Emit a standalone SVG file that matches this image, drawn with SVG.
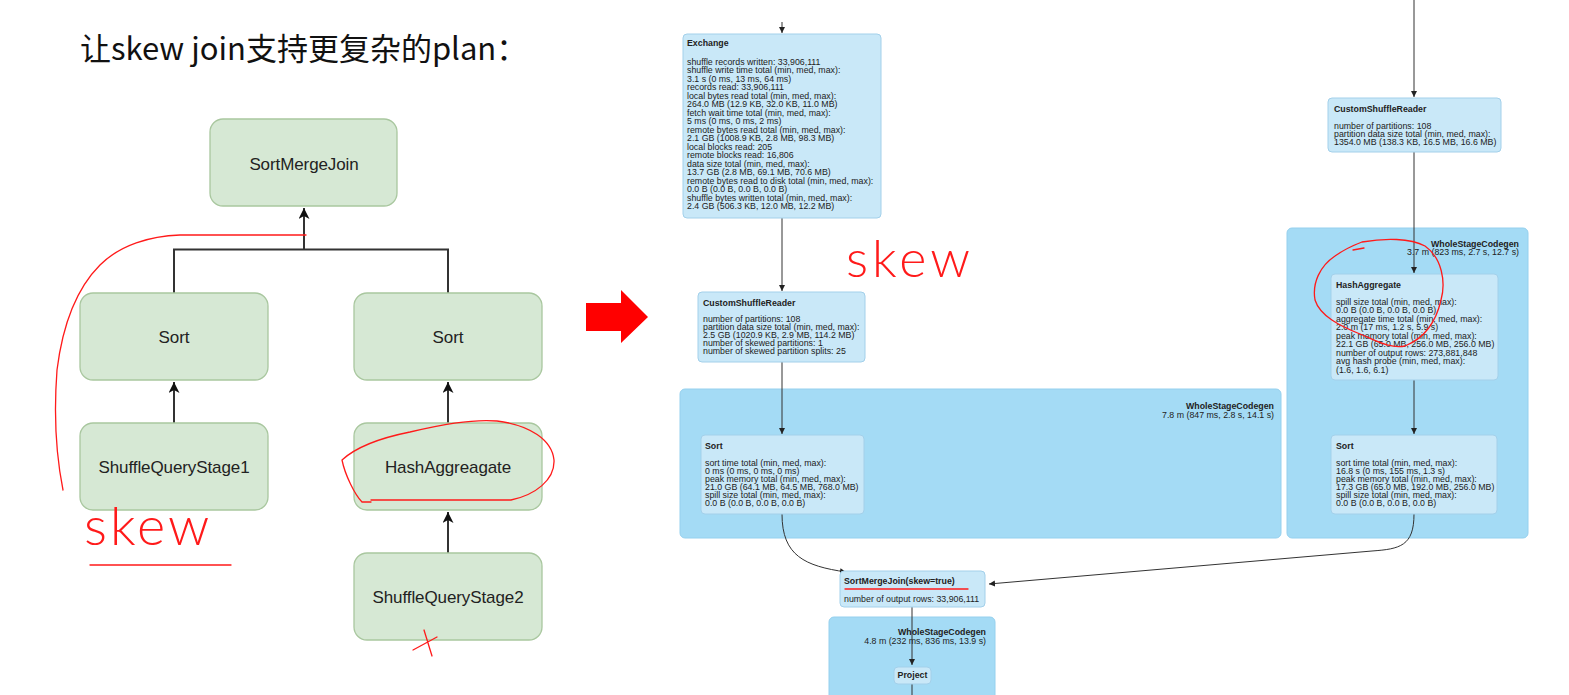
<svg xmlns="http://www.w3.org/2000/svg" width="1569" height="695" viewBox="0 0 1569 695">
<defs>
<style>
.gnode{fill:#d6e8d4;stroke:#a9c79f;stroke-width:1.3}
.glabel{font-family:"Liberation Sans",Arial,sans-serif;font-size:17px;fill:#222;text-anchor:middle;letter-spacing:-0.1px}
.gline{fill:none;stroke:#333;stroke-width:2}
.cluster{fill:#a4dbf5;stroke:#95d0ee;stroke-width:1}
.snode{fill:#c9e8f8;stroke:#a3d0ea;stroke-width:1}
.st{font-family:"Liberation Sans",Arial,sans-serif;font-size:8.8px;fill:#222}
.sb{font-family:"Liberation Sans",Arial,sans-serif;font-size:8.8px;font-weight:bold;fill:#222}
.sline{fill:none;stroke:#333;stroke-width:1}
.red{fill:none;stroke:#ff1a1a;stroke-width:1.3;stroke-linecap:round;stroke-linejoin:round}
.hand{font-family:Lato,"Open Sans",sans-serif;font-weight:300;fill:#ff1a1a}
</style>
<marker id="ga" markerUnits="userSpaceOnUse" markerWidth="12" markerHeight="12" refX="11" refY="5.5" orient="auto">
<path d="M0,0 L11,5.5 L0,11 L3,5.5 z" fill="#111"/>
</marker>
<marker id="sa" markerUnits="userSpaceOnUse" markerWidth="8" markerHeight="8" refX="6" refY="3" orient="auto">
<path d="M0,0 L6,3 L0,6 z" fill="#222"/>
</marker>
</defs>
<rect width="1569" height="695" fill="#fff"/>

<text x="80" y="60" font-size="31" font-family="'Noto Sans CJK SC','Noto Sans',sans-serif" fill="#111">让skew join支持更复杂的plan：</text>

<!-- left plan -->
<g id="left-connectors">
<path class="gline" d="M174,423 V382" marker-end="url(#ga)"/>
<path class="gline" d="M448,423 V382" marker-end="url(#ga)"/>
<path class="gline" d="M448,553 V512" marker-end="url(#ga)"/>
<path class="gline" d="M174,293 V249.5 H448 V293"/>
<path class="gline" d="M304,249.5 V208" marker-end="url(#ga)"/>
</g>
<g id="l-smj"><rect class="gnode" x="210" y="119" width="187" height="87" rx="13"/><text class="glabel" x="304" y="170">SortMergeJoin</text></g>
<g id="l-sort1"><rect class="gnode" x="80" y="293" width="188" height="87" rx="13"/><text class="glabel" x="174" y="343">Sort</text></g>
<g id="l-sort2"><rect class="gnode" x="354" y="293" width="188" height="87" rx="13"/><text class="glabel" x="448" y="343">Sort</text></g>
<g id="l-sqs1"><rect class="gnode" x="80" y="423" width="188" height="87" rx="13"/><text class="glabel" x="174" y="473">ShuffleQueryStage1</text></g>
<g id="l-hash"><rect class="gnode" x="354" y="423" width="188" height="87" rx="13"/><text class="glabel" x="448" y="473">HashAggreagate</text></g>
<g id="l-sqs2"><rect class="gnode" x="354" y="553" width="188" height="87" rx="13"/><text class="glabel" x="448" y="603">ShuffleQueryStage2</text></g>

<!-- left red annotations -->
<path class="red" d="M306,235 H180 C150,236 120,245 100,265 C75,290 62,330 57,370 C54,410 55,450 63,490"/>
<text class="hand" x="84" y="545" font-size="54" letter-spacing="3">skew</text>
<path class="red" d="M90,565 H231"/>
<path class="red" d="M371,500 L511,500 C535,495 555,480 554,460 C552,440 530,425 497,421 C470,419 440,425 410,432 C380,438 355,448 342,460 C345,475 355,495 362,502 L371,502"/>
<path class="red" d="M413,650 L437,637 M424,630 L432,656"/>

<!-- big red arrow -->
<polygon points="586,303 621,303 621,290 648,317 621,343 621,331 586,331" fill="#ff0000"/>

<!-- right: Spark UI -->
<g id="clusters">
<rect id="wsc-left" class="cluster" x="680" y="389" width="601" height="149" rx="5"/>
<rect id="wsc-right" class="cluster" x="1287" y="228" width="241" height="310" rx="5"/>
<rect id="wsc-bottom" class="cluster" x="829" y="617" width="166" height="90" rx="5"/>
<text class="sb" x="1274" y="409" text-anchor="end">WholeStageCodegen</text>
<text class="st" x="1274" y="418" text-anchor="end">7.8 m (847 ms, 2.8 s, 14.1 s)</text>
<text class="sb" x="1519" y="246.5" text-anchor="end">WholeStageCodegen</text>
<text class="st" x="1519" y="255" text-anchor="end">3.7 m (823 ms, 2.7 s, 12.7 s)</text>
<text class="sb" x="986" y="635" text-anchor="end">WholeStageCodegen</text>
<text class="st" x="986" y="644" text-anchor="end">4.8 m (232 ms, 836 ms, 13.9 s)</text>
</g>

<g id="right-connectors">
<path class="sline" d="M782,22 V33" marker-end="url(#sa)"/>
<path class="sline" d="M782,218 V291" marker-end="url(#sa)"/>
<path class="sline" d="M782,362 V434" marker-end="url(#sa)"/>
<path class="sline" d="M1414,0 V97" marker-end="url(#sa)"/>
<path class="sline" d="M1414,152 V273" marker-end="url(#sa)"/>
<path class="sline" d="M1414,380 V434" marker-end="url(#sa)"/>
<path class="sline" d="M782,514 C782,556 805,566 846,572" marker-end="url(#sa)"/>
<path class="sline" d="M1414,514 C1414,546 1400,549 1372,551 L989,584" marker-end="url(#sa)"/>
<path class="sline" d="M912,607 V665" marker-end="url(#sa)"/>
<path class="sline" d="M912,683 V695"/>
</g>

<g id="exchange">
<rect class="snode" x="683" y="34" width="198" height="184" rx="4"/>
<text class="sb" x="687" y="45.5">Exchange</text>
<text class="st">
<tspan x="687" y="64.5">shuffle records written: 33,906,111</tspan>
<tspan x="687" y="73">shuffle write time total (min, med, max):</tspan>
<tspan x="687" y="81.5">3.1 s (0 ms, 13 ms, 64 ms)</tspan>
<tspan x="687" y="90">records read: 33,906,111</tspan>
<tspan x="687" y="98.5">local bytes read total (min, med, max):</tspan>
<tspan x="687" y="107">264.0 MB (12.9 KB, 32.0 KB, 11.0 MB)</tspan>
<tspan x="687" y="115.5">fetch wait time total (min, med, max):</tspan>
<tspan x="687" y="124">5 ms (0 ms, 0 ms, 2 ms)</tspan>
<tspan x="687" y="132.5">remote bytes read total (min, med, max):</tspan>
<tspan x="687" y="141">2.1 GB (1008.9 KB, 2.8 MB, 98.3 MB)</tspan>
<tspan x="687" y="149.5">local blocks read: 205</tspan>
<tspan x="687" y="158">remote blocks read: 16,806</tspan>
<tspan x="687" y="166.5">data size total (min, med, max):</tspan>
<tspan x="687" y="175">13.7 GB (2.8 MB, 69.1 MB, 70.6 MB)</tspan>
<tspan x="687" y="183.5">remote bytes read to disk total (min, med, max):</tspan>
<tspan x="687" y="192">0.0 B (0.0 B, 0.0 B, 0.0 B)</tspan>
<tspan x="687" y="200.5">shuffle bytes written total (min, med, max):</tspan>
<tspan x="687" y="209">2.4 GB (506.3 KB, 12.0 MB, 12.2 MB)</tspan>
</text>
</g>

<g id="csr-left">
<rect class="snode" x="698" y="292" width="167" height="70" rx="4"/>
<text class="sb" x="703" y="306">CustomShuffleReader</text>
<text class="st">
<tspan x="703" y="321.5">number of partitions: 108</tspan>
<tspan x="703" y="329.5">partition data size total (min, med, max):</tspan>
<tspan x="703" y="337.5">2.5 GB (1020.9 KB, 2.9 MB, 114.2 MB)</tspan>
<tspan x="703" y="345.5">number of skewed partitions: 1</tspan>
<tspan x="703" y="353.5">number of skewed partition splits: 25</tspan>
</text>
</g>

<g id="sort-left">
<rect class="snode" x="701" y="435" width="163" height="79" rx="4"/>
<text class="sb" x="705" y="449">Sort</text>
<text class="st">
<tspan x="705" y="465.5">sort time total (min, med, max):</tspan>
<tspan x="705" y="473.5">0 ms (0 ms, 0 ms, 0 ms)</tspan>
<tspan x="705" y="481.5">peak memory total (min, med, max):</tspan>
<tspan x="705" y="489.5">21.0 GB (64.1 MB, 64.5 MB, 768.0 MB)</tspan>
<tspan x="705" y="497.5">spill size total (min, med, max):</tspan>
<tspan x="705" y="505.5">0.0 B (0.0 B, 0.0 B, 0.0 B)</tspan>
</text>
</g>

<g id="csr-right">
<rect class="snode" x="1328" y="98" width="173" height="54" rx="4"/>
<text class="sb" x="1334" y="111.5">CustomShuffleReader</text>
<text class="st">
<tspan x="1334" y="129">number of partitions: 108</tspan>
<tspan x="1334" y="137">partition data size total (min, med, max):</tspan>
<tspan x="1334" y="145">1354.0 MB (138.3 KB, 16.5 MB, 16.6 MB)</tspan>
</text>
</g>

<g id="hashagg">
<rect class="snode" x="1331" y="274" width="167" height="106" rx="4"/>
<text class="sb" x="1336" y="287.5">HashAggregate</text>
<text class="st">
<tspan x="1336" y="304.5">spill size total (min, med, max):</tspan>
<tspan x="1336" y="313">0.0 B (0.0 B, 0.0 B, 0.0 B)</tspan>
<tspan x="1336" y="321.5">aggregate time total (min, med, max):</tspan>
<tspan x="1336" y="330">2.0 m (17 ms, 1.2 s, 5.9 s)</tspan>
<tspan x="1336" y="338.5">peak memory total (min, med, max):</tspan>
<tspan x="1336" y="347">22.1 GB (65.0 MB, 256.0 MB, 256.0 MB)</tspan>
<tspan x="1336" y="355.5">number of output rows: 273,881,848</tspan>
<tspan x="1336" y="364">avg hash probe (min, med, max):</tspan>
<tspan x="1336" y="372.5">(1.6, 1.6, 6.1)</tspan>
</text>
</g>

<g id="sort-right">
<rect class="snode" x="1331" y="435" width="166" height="79" rx="4"/>
<text class="sb" x="1336" y="449">Sort</text>
<text class="st">
<tspan x="1336" y="465.5">sort time total (min, med, max):</tspan>
<tspan x="1336" y="473.5">16.8 s (0 ms, 155 ms, 1.3 s)</tspan>
<tspan x="1336" y="481.5">peak memory total (min, med, max):</tspan>
<tspan x="1336" y="489.5">17.3 GB (65.0 MB, 192.0 MB, 256.0 MB)</tspan>
<tspan x="1336" y="497.5">spill size total (min, med, max):</tspan>
<tspan x="1336" y="505.5">0.0 B (0.0 B, 0.0 B, 0.0 B)</tspan>
</text>
</g>

<g id="smj">
<rect class="snode" x="840" y="571" width="145" height="36" rx="4"/>
<text class="sb" x="844" y="584">SortMergeJoin(skew=true)</text>
<text class="st" x="844" y="602">number of output rows: 33,906,111</text>
</g>

<g id="project">
<rect class="snode" x="894" y="667" width="37" height="17" rx="4"/>
<text class="sb" x="912.5" y="678" text-anchor="middle">Project</text>
</g>

<!-- right red annotations -->
<text class="hand" x="846" y="277" font-size="52" letter-spacing="4">skew</text>
<path class="red" d="M845,589 H968"/>
<path class="red" d="M1362,242 C1385,238 1410,238 1425,246 C1442,258 1446,282 1441,300 C1436,322 1425,338 1405,346 C1390,349 1375,340 1360,334 C1340,326 1320,316 1315,300 C1312,283 1320,266 1335,256 C1345,249 1354,245 1362,242 M1353,250 L1364,248"/>
</svg>
